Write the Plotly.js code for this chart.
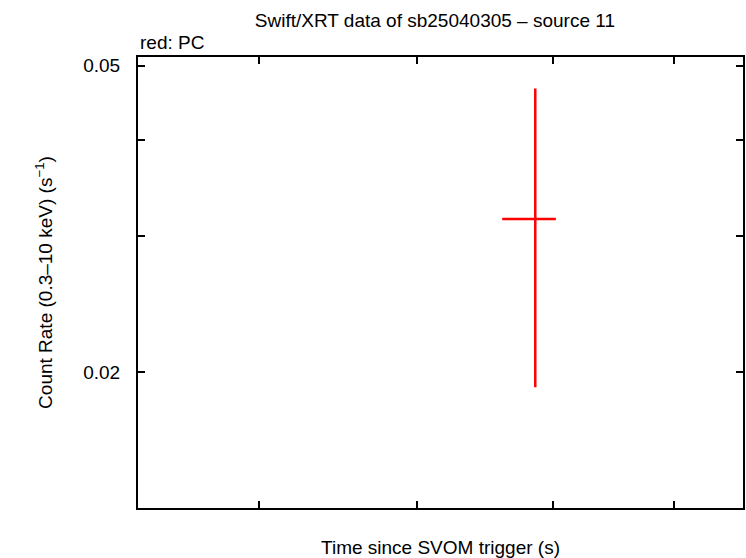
<!DOCTYPE html>
<html>
<head>
<meta charset="utf-8">
<script src="https://cdn.plot.ly/plotly-3.0.1.min.js"></script>
<style>html,body{margin:0;padding:0;background:#fff;}#chart{width:746px;height:558px;}</style>
</head>
<body>
<div id="chart"></div>
<script>
// PC data (time since trigger in s, count rate in s^-1)
const pcTime = [78600];
const pcTimeLo = [76100];
const pcTimeHi = [80200];
const pcRate = [0.0316];
const pcRateLo = [0.0191];
const pcRateHi = [0.0467];

const xTickVals = [60000, 70000, 80000, 90000];
const yTickVals = [0.02, 0.03, 0.04, 0.05];
const yTickText = ['0.02', '', '', '0.05'];

const font = 'Liberation Sans, Arial, Helvetica, sans-serif';

const trace = {
  x: pcTime, y: pcRate, type: 'scatter', mode: 'markers',
  marker: {size: 0.1, color: '#ff0000'},
  error_x: {type: 'data', symmetric: false,
    array: pcTimeHi.map((v, i) => v - pcTime[i]),
    arrayminus: pcTime.map((v, i) => v - pcTimeLo[i]),
    color: '#ff0000', thickness: 2.5, width: 0},
  error_y: {type: 'data', symmetric: false,
    array: pcRateHi.map((v, i) => v - pcRate[i]),
    arrayminus: pcRate.map((v, i) => v - pcRateLo[i]),
    color: '#ff0000', thickness: 2.5, width: 0},
  hoverinfo: 'skip', showlegend: false
};

const layout = {
  width: 746, height: 558,
  margin: {l: 138, r: 3, t: 57, b: 50},
  paper_bgcolor: '#fff', plot_bgcolor: '#fff',
  font: {family: font, size: 19, color: '#000'},
  title: {text: 'Swift/XRT data of sb25040305 \u2013 source 11', x: 0.583, xanchor: 'center', y: 0.963, yanchor: 'middle', font: {family: font, size: 19}},
  xaxis: {
    type: 'log', range: [Math.log10(53300), Math.log10(96300)],
    tickvals: xTickVals, ticktext: xTickVals.map(() => ''),
    ticks: 'inside', ticklen: 7, tickwidth: 2, tickcolor: '#000',
    showline: true, linewidth: 2, linecolor: '#000', mirror: 'allticks',
    showgrid: false, zeroline: false,
    title: {text: 'Time since SVOM trigger (s)', standoff: 28, font: {family: font, size: 19}}
  },
  yaxis: {
    type: 'log', range: [Math.log10(0.01331), Math.log10(0.0513)],
    tickvals: yTickVals, ticktext: yTickText,
    ticks: 'inside', ticklen: 7, tickwidth: 2, tickcolor: '#000',
    showline: true, linewidth: 2, linecolor: '#000', mirror: 'allticks',
    showgrid: false, zeroline: false,
    ticklabelstandoff: 12,
    tickfont: {family: font, size: 19},
    title: {text: 'Count Rate (0.3\u201310 keV) (s<sup>\u22121</sup>)', standoff: 26, font: {family: font, size: 19}}
  },
  annotations: [{
    text: 'red: PC', xref: 'paper', yref: 'paper', x: 0, y: 1, xanchor: 'left', yanchor: 'bottom',
    yshift: 2, showarrow: false, font: {family: font, size: 19, color: '#000'}
  }]
};

Plotly.newPlot('chart', [trace], layout, {staticPlot: true, displayModeBar: false});
</script>
</body>
</html>
